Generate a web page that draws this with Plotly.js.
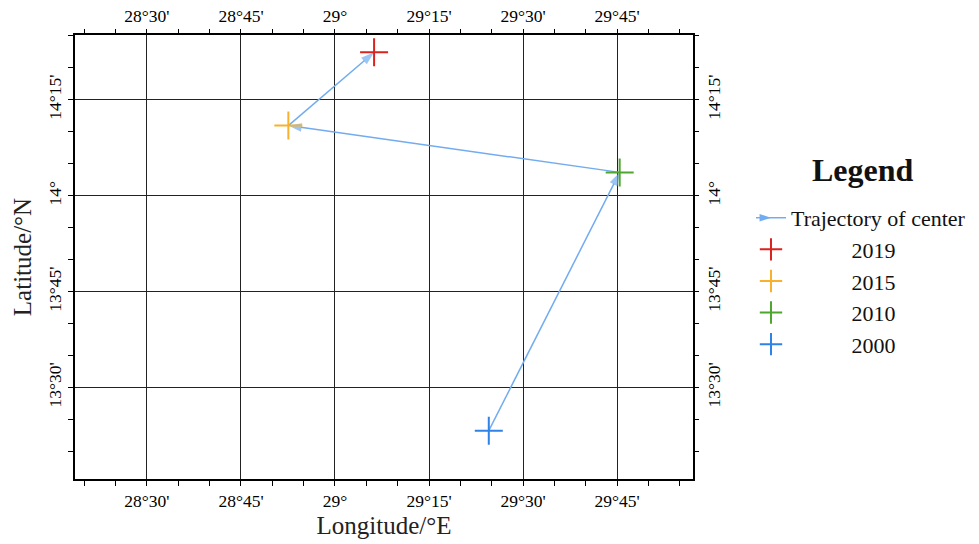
<!DOCTYPE html>
<html>
<head>
<meta charset="utf-8">
<script src="https://cdn.plot.ly/plotly-3.0.1.min.js"></script>
<style>html,body{margin:0;padding:0;background:#fff;}#chart{width:979px;height:544px;}</style>
</head>
<body>
<div id="chart"></div>
<script>
// Center positions of each year (longitude °E, latitude °N)
const years = ['2019', '2015', '2010', '2000'];
const lon = [29.104, 28.876, 29.757, 29.409];
const lat = [14.374, 14.183, 14.061, 13.388];
const yearColors = ['#d9231f', '#f7b12c', '#4ea62f', '#2f82e6'];

// Trajectory goes from oldest to newest
const trajOrder = ['2000', '2010', '2015', '2019'];

const lonTicks = [28.5, 28.75, 29, 29.25, 29.5, 29.75];
const lonLabels = ["28°30'", "28°45'", "29°", "29°15'", "29°30'", "29°45'"];
const latTicks = [13.5, 13.75, 14, 14.25];
const latLabels = ["13°30'", "13°45'", "14°", "14°15'"];

const xRange = [28.3087, 29.952];
const yRange = [13.262, 14.419];
const arrowColor = '#72acf0';
const FONT = 'Liberation Serif';
const pad = '\u00a0'.repeat(11);

const trajX = trajOrder.map(y => lon[years.indexOf(y)]);
const trajY = trajOrder.map(y => lat[years.indexOf(y)]);

const traces = [];
traces.push({
  x: trajX, y: trajY, type: 'scatter', mode: 'lines+markers',
  line: {color: arrowColor, width: 1.5},
  marker: {symbol: 'arrow', angleref: 'previous', size: trajX.map((v, i) => i === 0 ? 0 : 14), color: arrowColor, line: {width: 0}},
  showlegend: false, hoverinfo: 'skip'
});
traces.push({
  x: [null], y: [null], type: 'scatter', mode: 'lines+markers',
  name: 'Trajectory of center',
  line: {color: arrowColor, width: 1.5},
  marker: {symbol: 'arrow', angle: 90, size: 12, color: arrowColor, line: {width: 0}},
  showlegend: true
});
years.forEach((yr, i) => {
  traces.push({
    x: [lon[i]], y: [lat[i]], type: 'scatter', mode: 'markers',
    name: pad + yr,
    marker: {symbol: 'cross-thin', size: 20, line: {color: yearColors[i], width: 2}, color: yearColors[i]},
    showlegend: true
  });
});
// invisible trace to attach top/right axes
traces.push({x: [xRange[0]], y: [yRange[0]], xaxis: 'x2', yaxis: 'y2', type: 'scatter', mode: 'markers', marker: {opacity: 0}, showlegend: false, hoverinfo: 'skip'});

function tf() { return {family: FONT, size: 17.5, color: '#000'}; }
function minorTicks(t0) { return {tick0: t0, dtick: 1/12, ticklen: 5, tickcolor: '#000', tickwidth: 1, showgrid: false, ticks: 'outside'}; }

const layout = {
  width: 979, height: 544,
  margin: {l: 75, r: 286, t: 35, b: 65},
  paper_bgcolor: '#fff', plot_bgcolor: '#fff',
  font: {family: FONT, color: '#111', size: 17},
  xaxis: {
    range: xRange, tickmode: 'array', tickvals: lonTicks, ticktext: lonLabels,
    ticks: 'outside', ticklen: 5, tickcolor: '#000', tickwidth: 1,
    showgrid: true, gridcolor: '#222', gridwidth: 1,
    showline: true, linecolor: '#000', linewidth: 2, mirror: true,
    zeroline: false, tickfont: tf(), minor: minorTicks(28.5),
    title: {text: 'Longitude/°E', font: {family: FONT, size: 25, color: '#222'}, standoff: 6}
  },
  yaxis: {
    range: yRange, tickmode: 'array', tickvals: latTicks, ticktext: latLabels,
    ticks: 'outside', ticklen: 5, tickcolor: '#000', tickwidth: 1,
    showgrid: true, gridcolor: '#222', gridwidth: 1,
    showline: true, linecolor: '#000', linewidth: 2, mirror: true,
    zeroline: false, tickfont: tf(), tickangle: -90, minor: minorTicks(13.5),
    title: {text: 'Latitude/°N', font: {family: FONT, size: 25, color: '#222'}, standoff: 6}
  },
  xaxis2: {
    range: xRange, overlaying: 'x', side: 'top', anchor: 'y2',
    tickmode: 'array', tickvals: lonTicks, ticktext: lonLabels,
    ticks: 'outside', ticklen: 5, tickcolor: '#000', tickwidth: 1,
    showgrid: false, zeroline: false, showline: false, tickfont: tf(), minor: minorTicks(28.5)
  },
  yaxis2: {
    range: yRange, overlaying: 'y', side: 'right', anchor: 'x2',
    tickmode: 'array', tickvals: latTicks, ticktext: latLabels,
    ticks: 'outside', ticklen: 5, tickcolor: '#000', tickwidth: 1,
    showgrid: false, zeroline: false, showline: false, tickfont: tf(), tickangle: -90, minor: minorTicks(13.5)
  },
  legend: {
    xref: 'container', yref: 'container',
    x: 0.7671, xanchor: 'left', y: 0.638, yanchor: 'top',
    font: {family: FONT, size: 22, color: '#111'},
    bgcolor: 'rgba(0,0,0,0)', itemwidth: 30, tracegroupgap: 0
  },
  annotations: [{
    text: '<b>Legend</b>', xref: 'paper', yref: 'paper',
    x: (863 - 75) / 618, y: (479 - 170) / 444, xanchor: 'center', yanchor: 'middle',
    showarrow: false, font: {family: FONT, size: 32, color: '#111'}
  }],
  showlegend: true
};

Plotly.newPlot('chart', traces, layout, {displayModeBar: false, staticPlot: true});
</script>
</body>
</html>
